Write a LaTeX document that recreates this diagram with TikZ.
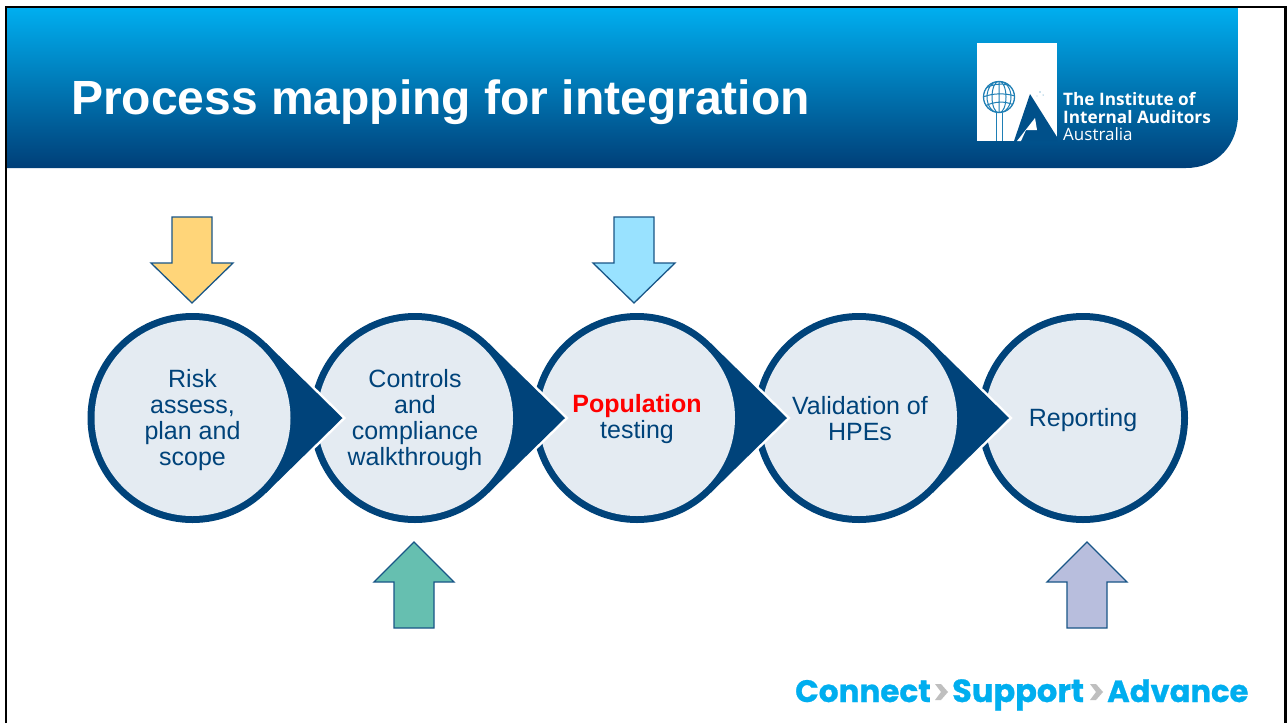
\documentclass[tikz,border=0pt]{standalone}
\usepackage{fontspec}
\setmainfont{Liberation Sans}
\newfontfamily\slogan[BoldFeatures={FakeBold=0.8}]{Poppins}
\newfontfamily\logofont{Open Sans}
\usetikzlibrary{calc}
\definecolor{navy}{HTML}{00437A}
\definecolor{pale}{HTML}{E4EBF2}
\definecolor{skytop}{HTML}{00AEEF}
\definecolor{skybot}{HTML}{003F78}
\definecolor{amberfill}{HTML}{FFD579}
\definecolor{cyanfill}{HTML}{99E2FF}
\definecolor{tealfill}{HTML}{66BFB0}
\definecolor{lilacfill}{HTML}{B8BEDD}
\definecolor{globeblue}{HTML}{1F7FB5}
\tikzset{
  x=1pt,y=-1pt,
  disc/.style={circle,fill=navy,minimum size=210pt,inner sep=0pt},
  stepcircle/.style={circle,fill=pale,minimum size=196pt,inner sep=0pt},
  steptext/.style={inner sep=0pt,text=navy,align=center,font=\fontsize{25}{26}\selectfont},
  flow/.style={draw=navy!90,line width=1.3pt,line join=miter},
  logotext/.style={text=white,anchor=base west,inner sep=0pt,font=\logofont\fontsize{17.2}{17.2}\selectfont\bfseries},
  slog/.style={text=skytop,anchor=base west,inner sep=0pt,font=\slogan\bfseries\fontsize{31}{31}\selectfont},
  chev/.style={fill=black!25}
}
\newcommand{\tearfrom}[1]{%
  \draw[white,line width=5pt,line join=miter] ($(#1)+(150,0)$) -- ($(#1)+(73.5,75)$) -- ($(#1)+(73.5,-75)$) -- cycle;
  \fill[navy] ($(#1)+(150,0)$) -- ($(#1)+(73.5,75)$) -- ($(#1)+(73.5,-75)$) -- cycle;}
\newcommand{\flowdown}[2]{%
  \draw[flow,fill=#2] ($(#1)+(-20,-86)$) -- ($(#1)+(20,-86)$) -- ($(#1)+(20,-40)$) -- ($(#1)+(41,-40)$) -- (#1) -- ($(#1)+(-41,-40)$) -- ($(#1)+(-20,-40)$) -- cycle;}
\newcommand{\flowup}[2]{%
  \draw[flow,fill=#2] ($(#1)+(-20,86)$) -- ($(#1)+(20,86)$) -- ($(#1)+(20,40)$) -- ($(#1)+(40,40)$) -- (#1) -- ($(#1)+(-40,40)$) -- ($(#1)+(-20,40)$) -- cycle;}
\begin{document}
\begin{tikzpicture}
\useasboundingbox (0,0) rectangle (1287,723);
\fill[white] (0,0) rectangle (1287,723);
% header
\shade[top color=skytop,bottom color=skybot,middle color=skytop!50!skybot]
  (7,8) -- (1238,8) -- (1238,114) .. controls (1238,144) and (1218,168) .. (1186,168) -- (7,168) -- cycle;
\draw[black,line width=2.4pt] (6,723) -- (6,7) -- (1285.5,7) -- (1285.5,723);
\node[anchor=base west,text=white,inner sep=0pt,font=\fontsize{48}{48}\selectfont\bfseries] (title) at (71,114) {Process mapping for integration};
% logo
\fill[white] (977,43) rectangle (1057,141);
\fill[skybot!85!skytop] (1014,141) -- (1030,94) -- (1057,137) -- (1057,141) -- cycle;
\fill[white] (1017,141) -- (1035,118) -- (1037,130) -- (1026,130) -- (1021,141) -- cycle;
\fill[globeblue] (1040,92) circle (0.6) (1043,95) circle (0.5) (1037,96) circle (0.4);
\fill[globeblue] (996,113) rectangle (997.2,141);
\fill[globeblue] (1001.5,113) rectangle (1002.7,141);
\begin{scope}
  \clip (999,97) circle (15.5);
  \fill[white] (999,97) circle (15.5);
  \draw[globeblue,line width=1pt] (999,97) ellipse (7 and 16) (999,97) ellipse (12 and 16)
     (986,88) .. controls (995,83) and (1005,83) .. (1013,87)
     (983,97) .. controls (993,93) and (1005,93) .. (1015,96)
     (985,106) .. controls (995,101) and (1005,101) .. (1014,105)
     (999,81) -- (999,113);
\end{scope}
\draw[globeblue,line width=1.3pt] (999,97) circle (15.5);
\node[logotext] (l1) at (1063,105) {The Institute of};
\node[logotext] (l2) at (1063,123) {Internal Auditors};
\node[logotext,font=\logofont\fontsize{17}{17}\selectfont] (l3) at (1063,140.5) {Australia};
% circles, right to left so each tip lies over the next ring
\coordinate (c1) at (192.5,418);
\coordinate (c2) at (415,418);
\coordinate (c3) at (637,418);
\coordinate (c4) at (859,418);
\coordinate (c5) at (1083,418);
\node[disc] (d5) at (c5) {};
\node[stepcircle] (s5) at (c5) {};
\node[steptext] (t5) at ($(c5)+(0,2)$) {Reporting};
\tearfrom{c4}
\node[disc] (d4) at (c4) {};
\node[stepcircle] (s4) at (c4) {};
\node[steptext] (t4) at ($(c4)+(1,1)$) {Validation of\\HPEs};
\tearfrom{c3}
\node[disc] (d3) at (c3) {};
\node[stepcircle] (s3) at (c3) {};
\node[steptext] (t3) at ($(c3)+(0,1)$) {\textcolor{red}{\bfseries Population}\\testing};
\tearfrom{c2}
\node[disc] (d2) at (c2) {};
\node[stepcircle] (s2) at (c2) {};
\node[steptext] (t2) at ($(c2)+(0,2)$) {Controls\\and\\compliance\\walkthrough};
\tearfrom{c1}
\node[disc] (d1) at (c1) {};
\node[stepcircle] (s1) at (c1) {};
\node[steptext] (t1) at ($(c1)+(0,2)$) {Risk\\assess,\\plan and\\scope};
% block arrows
\coordinate (a1) at (192,303);
\coordinate (a3) at (634,303);
\coordinate (a2) at (414,542);
\coordinate (a5) at (1087,542);
\flowdown{a1}{amberfill}
\flowdown{a3}{cyanfill}
\flowup{a2}{tealfill}
\flowup{a5}{lilacfill}
% slogan
\node[slog] (w1) at (795,702) {Connect};
\node[slog,font=\slogan\bfseries\fontsize{32}{32}\selectfont] (w2) at (952,702) {Support};
\node[slog,font=\slogan\bfseries\fontsize{30.6}{30.6}\selectfont] (w3) at (1107,702) {Advance};
\fill[chev] (935,684) -- (941,684) -- (948,692) -- (941,700) -- (935,700) -- (941,692) -- cycle;
\fill[chev] (1090,684) -- (1096,684) -- (1103,692) -- (1096,700) -- (1090,700) -- (1096,692) -- cycle;
\end{tikzpicture}
\end{document}
